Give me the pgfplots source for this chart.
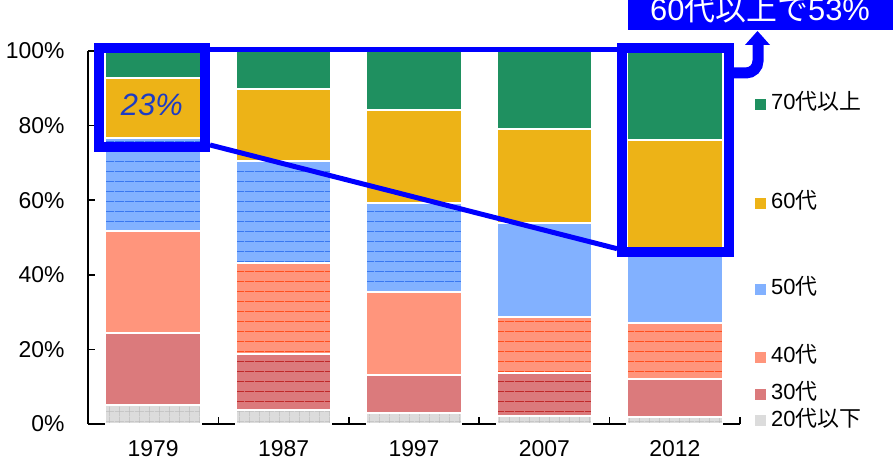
\documentclass[border=0pt]{standalone}
\usepackage{pgfplots}
\pgfplotsset{compat=1.18}
\usetikzlibrary{patterns.meta}
\usepackage{fontspec}
\setmainfont{Liberation Sans}
\newfontfamily\jp{Noto Sans CJK JP}
\definecolor{c70}{HTML}{1F9060}
\definecolor{c60}{HTML}{EDB317}
\definecolor{c50}{HTML}{82B1FF}
\definecolor{c40}{HTML}{FF957C}
\definecolor{c30}{HTML}{DB7A7C}
\definecolor{c20}{HTML}{DCDCDC}
\definecolor{l50}{HTML}{3A78F0}
\definecolor{l40}{HTML}{FF5020}
\definecolor{l30}{HTML}{C02A2A}
\definecolor{l20}{HTML}{BDBDBD}
\definecolor{hl}{HTML}{0000FF}
\definecolor{pct}{RGB}{30,60,195}
\pgfplotsset{
  plainbar/.style={fill=#1, draw=white, line width=1.5bp},
  linedbar/.style 2 args={fill=#1, draw=white, line width=1.5bp,
     postaction={pattern={Lines[angle=0,distance=10bp,line width=0.8bp]}, pattern color=#2}},
  gridbar/.style 2 args={fill=#1, draw=white, line width=1.5bp,
     postaction={pattern={Hatch[angle=0,distance=10bp,line width=0.6bp]}, pattern color=#2}},
}
\begin{document}
\begin{tikzpicture}
\useasboundingbox (0,0) rectangle (893bp,461bp);
\begin{axis}[at={(88bp,37bp)}, anchor=south west, scale only axis,
  width=652bp, height=373bp,
  xmin=-0.5, xmax=4.5, ymin=0, ymax=100, clip=false,
  axis lines*=left, axis line style={line width=1.6bp, black},
  tick align=inside, major tick length=7bp, tick style={line width=1.6bp, black},
  xtick={-0.5,0.5,1.5,2.5,3.5,4.5}, xticklabels={,,,,,},
  extra x ticks={0,1,2,3,4}, extra x tick labels={1979,1987,1997,2007,2012},
  extra x tick style={tick style={draw=none}},
  ytick={0,20,40,60,80,100},
  yticklabels={0\%,20\%,40\%,60\%,80\%,100\%},
  ticklabel style={font=\fontsize{23}{27}\selectfont},
  xticklabel style={yshift=-13bp},
  yticklabel style={xshift=-20bp},
  ybar stacked, bar width=0.73,
]
% 20s and under
\addplot[gridbar={c20}{l20}] coordinates {(0,5.1) (1,3.8) (2,2.9) (3,2.1) (4,1.9)};
% 30s
\addplot[plainbar=c30] coordinates {(0,19.3) (1,0) (2,10.2) (3,0) (4,10.2)};
\addplot[linedbar={c30}{l30}] coordinates {(0,0) (1,15.0) (2,0) (3,11.6) (4,0)};
% 40s
\addplot[plainbar=c40] coordinates {(0,27.3) (1,0) (2,22.3) (3,0) (4,0)};
\addplot[linedbar={c40}{l40}] coordinates {(0,0) (1,24.4) (2,0) (3,15.0) (4,15.0)};
% 50s
\addplot[linedbar={c50}{l50}] coordinates {(0,25.0) (1,27.3) (2,23.8) (3,0) (4,0)};
\addplot[plainbar=c50] coordinates {(0,0) (1,0) (2,0) (3,25.2) (4,19.9)};
% 60s
\addplot[plainbar=c60] coordinates {(0,16.1) (1,19.3) (2,25.0) (3,25.2) (4,29.1)};
% 70s and over
\addplot[plainbar=c70] coordinates {(0,7.2) (1,10.2) (2,15.8) (3,20.9) (4,23.9)};

\coordinate (ta) at (axis cs:0.397,100.3);
\coordinate (tb) at (axis cs:3.595,100.3);
\coordinate (da) at (axis cs:0.436,74.8);
\coordinate (db) at (axis cs:3.557,47.0);
\coordinate (f1a) at (axis cs:-0.416,74.3);
\coordinate (f1b) at (axis cs:0.397,100.8);
\coordinate (f2a) at (axis cs:3.595,46.1);
\coordinate (f2b) at (axis cs:4.416,100.8);
\coordinate (lab) at (axis cs:-0.01,85.5);
\end{axis}

% highlight frames and connectors
\draw[hl, line width=5bp] (ta) -- (tb);
\draw[hl, line width=5bp] (da) -- (db);
\draw[hl, line width=10bp] (f1a) rectangle (f1b);
\draw[hl, line width=10bp] (f2a) rectangle (f2b);
\node[font=\fontsize{31}{35}\selectfont\itshape, text=pct] at (lab) {23\%};

% arrow to callout
\draw[hl, line width=11bp, rounded corners=12bp] (729bp,388bp) -- (758bp,388bp) -- (758bp,417bp);
\fill[hl] (745bp,416bp) -- (770bp,416bp) -- (757.5bp,430bp) -- cycle;
% callout box
\fill[hl] (628bp,431bp) rectangle (900bp,475bp);
\node[anchor=base west, inner sep=0pt, text=white, font=\fontsize{31}{35}\selectfont]
  at (650bp,440bp) {60{\jp 代以上で}53\%};

% legend
\begin{scope}[every node/.style={anchor=base west, inner sep=0pt, font=\fontsize{22}{26}\selectfont}]
\node at (755bp,351bp) {\textcolor{c70}{\rule{11bp}{11bp}}\hspace{5bp}70{\jp 代以上}};
\node at (755bp,252bp) {\textcolor{c60}{\rule{11bp}{11bp}}\hspace{5bp}60{\jp 代}};
\node at (755bp,166bp) {\textcolor{c50}{\rule{11bp}{11bp}}\hspace{5bp}50{\jp 代}};
\node at (755bp,98bp) {\textcolor{c40}{\rule{11bp}{11bp}}\hspace{5bp}40{\jp 代}};
\node at (755bp,61bp) {\textcolor{c30}{\rule{11bp}{11bp}}\hspace{5bp}30{\jp 代}};
\node at (755bp,35bp) {\textcolor{c20}{\rule{11bp}{11bp}}\hspace{5bp}20{\jp 代以下}};
\end{scope}
\end{tikzpicture}
\end{document}
